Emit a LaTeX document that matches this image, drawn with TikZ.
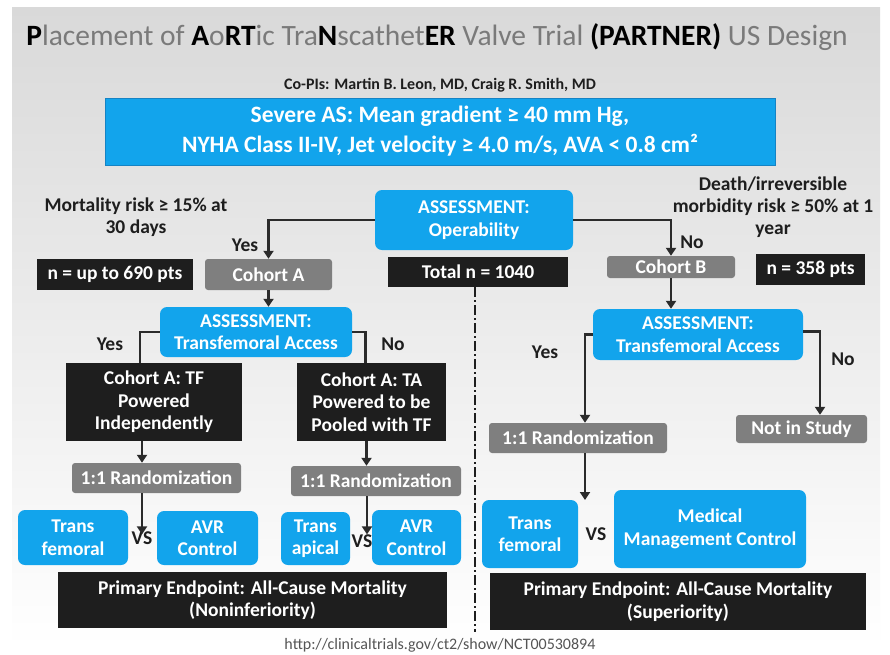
\documentclass[tikz,border=0pt]{standalone}
\usepackage{fontspec}
\setmainfont{Carlito}
\usetikzlibrary{arrows.meta}
\definecolor{myblue}{HTML}{12A4EC}
\definecolor{blueedge}{HTML}{1583C4}
\definecolor{myblack}{HTML}{1E1E1E}
\definecolor{mygray}{HTML}{7F7F7F}
\definecolor{titlegray}{HTML}{7A7A7A}
\definecolor{linec}{HTML}{2B2B2B}
\definecolor{bggray}{HTML}{D9D9D9}
\definecolor{urlgray}{HTML}{555555}
\begin{document}
\begin{tikzpicture}[x=1pt,y=-1pt,
  every node/.style={inner sep=0pt, align=center, font=\fontsize{19.5}{22.5}\selectfont\bfseries},
  bluebox/.style={fill=myblue, text=white, rounded corners=7pt},
  blackbox/.style={fill=myblack, text=white},
  graybox/.style={fill=mygray, text=white, rounded corners=3pt},
  lbl/.style={text=myblack},
  conn/.style={draw=linec, line width=2.2pt},
  arr/.style={conn, -{Triangle[length=8pt,width=10pt]}},
  divider/.style={draw=myblack, line width=1.8pt, dash pattern=on 10pt off 3pt on 2pt off 3pt},
]
\useasboundingbox (0,0) rectangle (890,654);
\fill[white] (0,0) rectangle (890,654);
\shade[top color=bggray, bottom color=white] (12,7) rectangle (880,648);

% title
\node[font=\fontsize{29.5}{33}\selectfont, text=titlegray] (title) at (437,37)
  {\textbf{\color{black}P}lacement of \textbf{\color{black}A}o\textbf{\color{black}RT}ic Tra\textbf{\color{black}N}scathet\textbf{\color{black}ER} Valve Trial \textbf{\color{black}(PARTNER)} US Design};
\node[lbl, font=\fontsize{16}{19}\selectfont\bfseries] (copis) at (440,85) {Co-PIs: Martin B. Leon, MD, Craig R. Smith, MD};

% top box
\node[fill=myblue, draw=blueedge, line width=0.8pt, text=white, minimum width=670pt, minimum height=67pt,
  font=\fontsize{23.5}{30}\selectfont\bfseries] (severe) at (440,131.5)
  {Severe AS: Mean gradient ≥ 40 mm Hg,\\NYHA Class II-IV, Jet velocity ≥ 4.0 m/s, AVA < 0.8 cm²};

% operability
\node[bluebox, minimum width=198pt, minimum height=60pt] (assess1) at (474,220) {ASSESSMENT:\\Operability};
\node[blackbox, minimum width=180pt, minimum height=30pt] (total) at (478,272) {Total n = 1040};

\node[lbl] (mort) at (136,217) {Mortality risk ≥ 15\% at\\30 days};
\node[lbl] (yes1) at (245,245) {Yes};
\node[blackbox, minimum width=156pt, minimum height=31pt] (n690) at (115,274.5) {n = up to 690 pts};
\node[graybox, minimum width=127pt, minimum height=31pt] (cohA) at (268.5,274.5) {Cohort A};

\node[lbl, font=\fontsize{19.5}{22}\selectfont\bfseries] (death) at (773,207) {Death/irreversible\\morbidity risk ≥ 50\% at 1\\year};
\node[lbl] (no1) at (692,242) {No};
\node[graybox, minimum width=128pt, minimum height=22pt] (cohB) at (671,267) {Cohort B};
\node[blackbox, minimum width=109pt, minimum height=31pt] (n358) at (810.5,269.5) {n = 358 pts};

% left assessment TF
\node[bluebox, minimum width=192pt, minimum height=50pt] (atfL) at (256,332) {ASSESSMENT:\\Transfemoral Access};
\node[lbl] (yes2) at (110,344) {Yes};
\node[lbl] (no2) at (393,344) {No};
\node[blackbox, minimum width=176pt, minimum height=78pt] (catf) at (154,402) {Cohort A: TF\\Powered\\Independently};
\node[blackbox, minimum width=149pt, minimum height=78pt] (cata) at (371.5,402) {Cohort A: TA\\Powered to be\\Pooled with TF};
\node[graybox, minimum width=169pt, minimum height=30pt] (rand1) at (156.5,478) {1:1 Randomization};
\node[graybox, minimum width=170pt, minimum height=30pt] (rand2) at (376,481) {1:1 Randomization};

\node[bluebox, minimum width=110pt, minimum height=55pt] (tf1) at (73,537.5) {Trans\\femoral};
\node[lbl] (vs1) at (142,538) {VS};
\node[bluebox, minimum width=101pt, minimum height=54pt] (avr1) at (207.5,538) {AVR\\Control};
\node[bluebox, minimum width=69pt, minimum height=53pt] (ta) at (315.5,538.5) {Trans\\apical};
\node[lbl] (vs2) at (362,541) {VS};
\node[bluebox, minimum width=89pt, minimum height=55pt] (avr2) at (416.5,537.5) {AVR\\Control};
\node[blackbox, minimum width=389pt, minimum height=56pt] (peL) at (252.5,600) {Primary Endpoint: All-Cause Mortality\\(Noninferiority)};

% right assessment TF
\node[bluebox, minimum width=210pt, minimum height=51pt] (atfR) at (698,334.5) {ASSESSMENT:\\Transfemoral Access};
\node[lbl] (yes3) at (545,352) {Yes};
\node[lbl] (no3) at (843,359) {No};
\node[graybox, minimum width=178pt, minimum height=30pt] (rand3) at (578,438) {1:1 Randomization};
\node[graybox, minimum width=131pt, minimum height=28pt] (notin) at (801.5,429) {Not in Study};
\node[bluebox, minimum width=96pt, minimum height=68pt] (tf2) at (530,534) {Trans\\femoral};
\node[lbl] (vs3) at (596,534) {VS};
\node[bluebox, minimum width=192pt, minimum height=78pt] (med) at (710,529) {Medical\\Management Control};
\node[blackbox, minimum width=376pt, minimum height=57pt] (peR) at (678,601.5) {Primary Endpoint: All-Cause Mortality\\(Superiority)};

\node[text=urlgray, font=\fontsize{16}{18}\selectfont] (url) at (440,645) {http://clinicaltrials.gov/ct2/show/NCT00530894};

% connectors
\draw[arr] (assess1.west) -| (cohA.north);
\draw[arr] (assess1.east) -| (cohB.north);
\draw[arr] (cohA.south) -- (cohA.south |- atfL.north);
\draw[arr] (cohB.south) -- (cohB.south |- atfR.north);
\draw[conn] (atfL.west) -| ([xshift=-14pt]catf.north);
\draw[conn] (atfL.east) -| ([xshift=-6pt]cata.north);
\draw[arr] ([xshift=-12pt]catf.south) -- ([xshift=-12pt]catf.south |- rand1.north);
\draw[arr] ([xshift=-5pt]cata.south) -- ([xshift=-5pt]cata.south |- rand2.north);
\draw[arr] (rand1.south -| vs1.north) -- ([yshift=-3pt]vs1.north);
\draw[arr] ([xshift=-9pt]rand2.south) -- ([xshift=-9pt]rand2.south |- vs2.north);
\draw[arr] (atfR.west) -| ([xshift=7pt]rand3.north);
\draw[arr] ([yshift=3pt]atfR.east) -| ([xshift=18.5pt]notin.north);
\coordinate (r3end) at (585,500);
\draw[arr] ([xshift=7pt]rand3.south) -- (r3end);
\coordinate (divend) at (475,632);
\draw[divider] ([xshift=-3pt]total.south) -- (divend);
\end{tikzpicture}
\end{document}
